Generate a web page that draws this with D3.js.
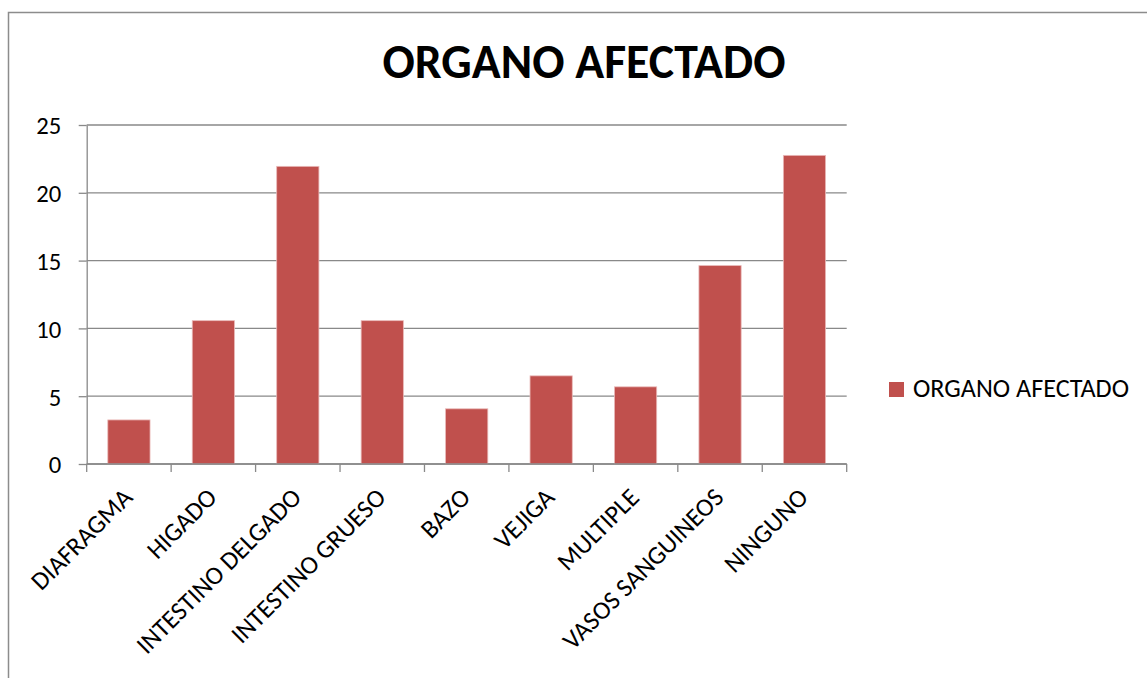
<!DOCTYPE html>
<html>
<head>
<meta charset="utf-8">
<script src="https://cdn.jsdelivr.net/npm/d3@7"></script>
<style>
  body { margin: 0; background: #fff; }
  svg text { font-family: Carlito, Lato, "Open Sans", sans-serif; fill: #000; }
</style>
</head>
<body>
<div id="chart"></div>
<script>
"use strict";

// data
const categories = ["DIAFRAGMA", "HIGADO", "INTESTINO DELGADO", "INTESTINO GRUESO",
    "BAZO", "VEJIGA", "MULTIPLE", "VASOS SANGUINEOS", "NINGUNO"];
const values = [3.25, 10.57, 21.95, 10.57, 4.07, 6.50, 5.69, 14.63, 22.76];
const yTicks = [0, 5, 10, 15, 20, 25];
const seriesName = "ORGANO AFECTADO";
const chartTitle = "ORGANO AFECTADO";

const msm = {
    width: 1147,
    height: 678,
    left: 86.7,
    right: 846.7,
    top: 125,
    bottom: 464
}

const barColor = "#C0504D";
const gridColor = "#898989";

let svg = d3.select("#chart")
    .append("svg")
    .attr("width", msm.width)
    .attr("height", msm.height);

// find the font size that makes a string a given width
function fitFont(str, weight, target) {
    let t = svg.append("text")
        .style("font-size", "100px")
        .style("font-weight", weight)
        .text(str);
    let w = t.node().getComputedTextLength();
    t.remove();
    return 100 * target / w;
}

const labelSize = fitFont("DIAFRAGMA", "normal", 131);
const tickSize = fitFont("25", "normal", 25);
const legendSize = fitFont(seriesName, "normal", 216);
const titleSize = fitFont(chartTitle, "bold", 403);

// outer chart border (runs off the right and bottom edges)
svg.append("rect")
    .attr("x", 8.5)
    .attr("y", 12.5)
    .attr("width", 1170)
    .attr("height", 700)
    .attr("fill", "none")
    .attr("stroke", "#8c8c8c")
    .attr("stroke-width", 1.5);

// scales
let x = d3.scaleBand()
    .domain(categories)
    .range([msm.left, msm.right])
    .paddingInner(0.5)
    .paddingOuter(0.25);

let y = d3.scaleLinear()
    .domain([0, 25])
    .range([msm.bottom, msm.top]);

// gridlines
svg.append("g")
    .selectAll("line")
    .data(yTicks)
    .enter()
    .append("line")
    .attr("x1", msm.left)
    .attr("x2", msm.right)
    .attr("y1", d => y(d))
    .attr("y2", d => y(d))
    .attr("stroke", gridColor)
    .attr("stroke-width", 1.3);

// y axis
let yAxis = d3.axisLeft(y)
    .tickValues(yTicks)
    .tickSize(8)
    .tickSizeOuter(0)
    .tickPadding(17.5);
let gy = svg.append("g")
    .attr("transform", "translate(" + msm.left + ",0)")
    .call(yAxis);
gy.select(".domain").attr("stroke", gridColor).attr("stroke-width", 1.3);
gy.selectAll(".tick line").attr("stroke", gridColor).attr("stroke-width", 1.3);
gy.selectAll(".tick text")
    .style("font-size", tickSize + "px")
    .attr("dy", "0.36em");

// bars
svg.selectAll(".bar")
    .data(values)
    .enter()
    .append("rect")
    .attr("class", "bar")
    .attr("x", (d, i) => x(categories[i]))
    .attr("y", d => y(d))
    .attr("width", x.bandwidth())
    .attr("height", d => y(0) - y(d))
    .attr("fill", barColor)
    .attr("stroke", "#e9b9b8")
    .attr("stroke-width", 0.8);

// x axis line and ticks at category boundaries
svg.append("line")
    .attr("x1", msm.left)
    .attr("x2", msm.right)
    .attr("y1", y(0))
    .attr("y2", y(0))
    .attr("stroke", gridColor)
    .attr("stroke-width", 1.3);

let step = x.step();
let bounds = d3.range(categories.length + 1);
svg.append("g")
    .selectAll("line")
    .data(bounds)
    .enter()
    .append("line")
    .attr("x1", d => msm.left + d * step)
    .attr("x2", d => msm.left + d * step)
    .attr("y1", y(0))
    .attr("y2", y(0) + 8)
    .attr("stroke", gridColor)
    .attr("stroke-width", 1.3);

// rotated category labels
svg.append("g")
    .selectAll("text")
    .data(categories)
    .enter()
    .append("text")
    .attr("transform", d => "translate(" + (x(d) + x.bandwidth() / 2 + 5) + "," + (y(0) + 35) + ") rotate(-45)")
    .attr("text-anchor", "end")
    .style("font-size", labelSize + "px")
    .text(d => d);

// title
svg.append("text")
    .attr("x", 584)
    .attr("y", 78)
    .attr("text-anchor", "middle")
    .style("font-size", titleSize + "px")
    .style("font-weight", "bold")
    .text(chartTitle);

// legend
let legend = svg.append("g")
    .attr("transform", "translate(889,382)");
legend.append("rect")
    .attr("width", 15)
    .attr("height", 15)
    .attr("fill", barColor);
legend.append("text")
    .attr("x", 24)
    .attr("y", 15)
    .style("font-size", legendSize + "px")
    .text(seriesName);
</script>
</body>
</html>
